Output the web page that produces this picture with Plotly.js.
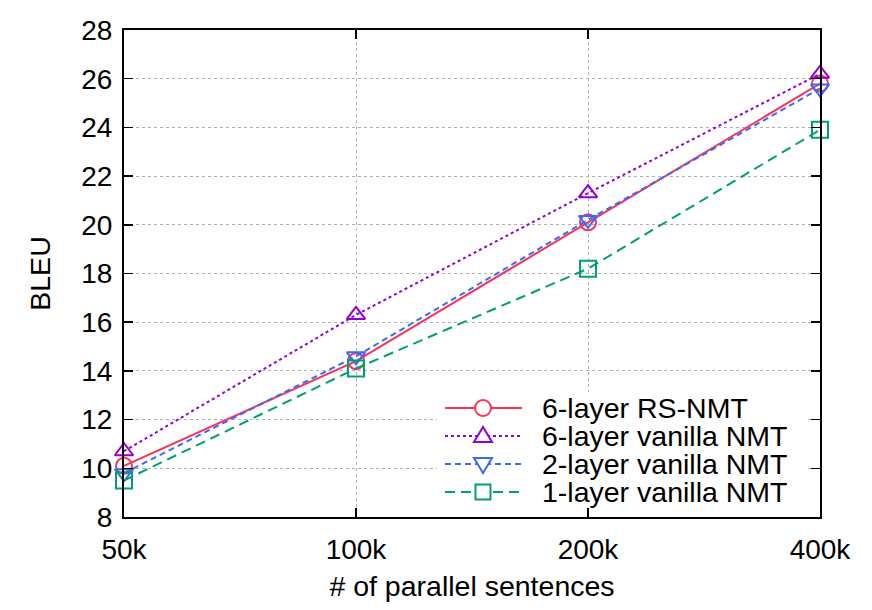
<!DOCTYPE html>
<html>
<head>
<meta charset="utf-8">
<script src="https://cdn.plot.ly/plotly-3.0.1.min.js"></script>
<style>
    html, body { margin: 0; padding: 0; background: white; }
    #chart { width: 872px; height: 610px; }
</style>
</head>
<body>
<div id="chart"></div>
<script>
const sizes = ['50k', '100k', '200k', '400k'];

const seriesNames = ['6-layer RS-NMT', '6-layer vanilla NMT', '2-layer vanilla NMT', '1-layer vanilla NMT'];
const rsNmt6 = [10.1, 14.4, 20.1, 25.8];
const vanilla6 = [10.7, 16.3, 21.3, 26.2];
const vanilla2 = [9.8, 14.6, 20.2, 25.6];
const vanilla1 = [9.5, 14.1, 18.2, 23.9];

const yTicks = [8, 10, 12, 14, 16, 18, 20, 22, 24, 26, 28];

const WIDTH = 872;
const HEIGHT = 610;
const MARGIN = { l: 124, r: 52, t: 30, b: 93 };
const FONT = 'Liberation Sans, Arial, sans-serif';

const styles = [
    { color: '#f7355a', dash: 'solid', symbol: 'circle-open' },
    { color: '#9400d3', dash: 'dot', symbol: 'triangle-up-open' },
    { color: '#3b6cf0', dash: '6px,4px', symbol: 'triangle-down-open' },
    { color: '#009e73', dash: '10px,6px', symbol: 'square-open' },
];

const allValues = [rsNmt6, vanilla6, vanilla2, vanilla1];

const data = allValues.map((values, index) => ({
    x: sizes,
    y: values,
    type: 'scatter',
    mode: 'lines+markers',
    name: seriesNames[index],
    line: { color: styles[index].color, width: 2, dash: styles[index].dash },
    marker: {
        symbol: styles[index].symbol,
        size: 16,
        color: styles[index].color,
        line: { color: styles[index].color, width: 2 },
    },
    cliponaxis: false,
    showlegend: false,
}));

// key drawn by hand (gnuplot style: long samples, tight rows)
const plotW = WIDTH - MARGIN.l - MARGIN.r;
const plotH = HEIGHT - MARGIN.t - MARGIN.b;
const toPaperX = (px) => (px - MARGIN.l) / plotW;
const toPaperY = (py) => (HEIGHT - MARGIN.b - py) / plotH;

const KEY = { top: 408, rowGap: 28, lineX0: 445, lineX1: 522, markX: 483, textX: 540 };

// pixel-sized shape paths: y grows upwards here
const markerPaths = {
    'triangle-up-open': 'M-9,-6 L9,-6 L0,9 Z',
    'triangle-down-open': 'M-9,6 L9,6 L0,-9 Z',
    'square-open': 'M-7.5,-7.5 L7.5,-7.5 L7.5,7.5 L-7.5,7.5 Z',
};

const shapes = [{
    type: 'rect',
    xref: 'paper',
    yref: 'paper',
    x0: toPaperX(437),
    x1: toPaperX(805),
    y0: toPaperY(392),
    y1: toPaperY(508),
    fillcolor: 'white',
    line: { width: 0 },
    layer: 'above',
}];
const annotations = [];

seriesNames.forEach((name, index) => {
    const style = styles[index];
    const rowY = toPaperY(KEY.top + index * KEY.rowGap);

    shapes.push({
        type: 'line',
        xref: 'paper',
        yref: 'paper',
        x0: toPaperX(KEY.lineX0),
        x1: toPaperX(KEY.lineX1),
        y0: rowY,
        y1: rowY,
        line: { color: style.color, width: 2, dash: style.dash },
        layer: 'above',
    });

    const common = {
        xref: 'paper',
        yref: 'paper',
        xsizemode: 'pixel',
        ysizemode: 'pixel',
        xanchor: toPaperX(KEY.markX),
        yanchor: rowY,
        fillcolor: 'white',
        line: { color: style.color, width: 2 },
        layer: 'above',
    };

    if (style.symbol === 'circle-open') {
        shapes.push(Object.assign({ type: 'circle', x0: -8, x1: 8, y0: -8, y1: 8 }, common));
    } else {
        shapes.push(Object.assign({ type: 'path', path: markerPaths[style.symbol] }, common));
    }

    annotations.push({
        xref: 'paper',
        yref: 'paper',
        x: toPaperX(KEY.textX),
        y: rowY,
        xanchor: 'left',
        yanchor: 'middle',
        text: name,
        showarrow: false,
        font: { family: FONT, size: 28.5, color: 'black' },
    });
});

const axisCommon = {
    showline: true,
    linecolor: 'black',
    linewidth: 2,
    mirror: 'ticks',
    ticks: 'inside',
    ticklen: 9,
    tickcolor: 'black',
    tickwidth: 1.5,
    showgrid: true,
    gridcolor: '#b0b0b0',
    griddash: 'dot',
    gridwidth: 1,
    zeroline: false,
    tickfont: { size: 28, color: 'black' },
};

const layout = {
    width: WIDTH,
    height: HEIGHT,
    margin: MARGIN,
    paper_bgcolor: 'white',
    plot_bgcolor: 'white',
    font: { family: FONT, color: 'black' },
    xaxis: Object.assign({}, axisCommon, {
        type: 'category',
        range: [0, sizes.length - 1],
        ticklabelstandoff: 6,
        title: { text: '# of parallel sentences', font: { size: 28.5 }, standoff: 12 },
    }),
    yaxis: Object.assign({}, axisCommon, {
        range: [8, 28],
        tickvals: yTicks,
        ticklabelstandoff: 4,
        title: { text: 'BLEU', font: { size: 28.5 }, standoff: 22 },
    }),
    shapes: shapes,
    annotations: annotations,
    showlegend: false,
};

Plotly.newPlot('chart', data, layout, { displayModeBar: false, staticPlot: true });
</script>
</body>
</html>
